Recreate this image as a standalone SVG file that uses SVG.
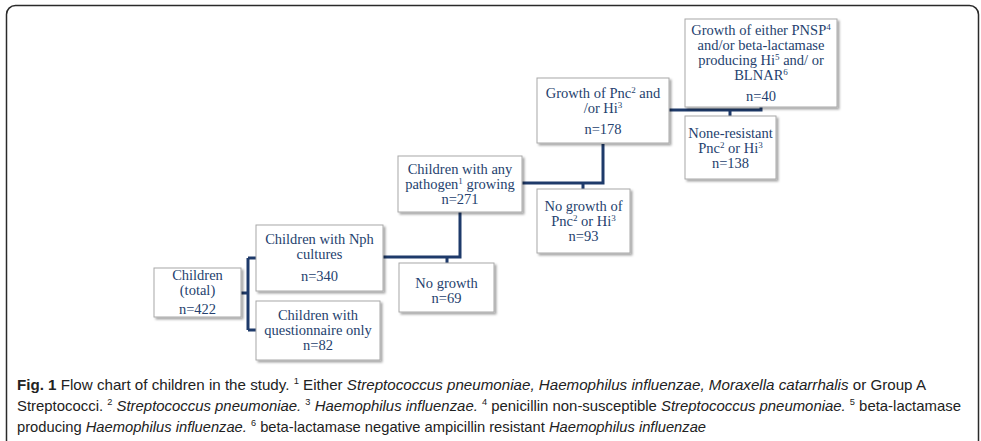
<svg xmlns="http://www.w3.org/2000/svg" width="981" height="441" viewBox="0 0 981 441">
<defs>
<filter id="sh" x="-10%" y="-10%" width="130%" height="140%">
<feDropShadow dx="2" dy="2" stdDeviation="1.2" flood-color="#000" flood-opacity="0.35"/>
</filter>
<style>
.box{fill:#fff;stroke:#a8a8a8;stroke-width:1;filter:url(#sh)}
.t{font-family:"Liberation Serif","Times New Roman",serif;font-size:14.5px;fill:#253f6e;text-anchor:middle}
.sup{font-size:9px}
.conn{fill:none;stroke:#1e3a6a;stroke-width:3}
.cap{font-family:"Liberation Sans",Arial,sans-serif;font-size:14.5px;fill:#222}
</style>
</defs>
<rect x="6.5" y="5.5" width="972" height="452" rx="9" fill="#fff" stroke="#2a2a2a" stroke-width="1.5"/>

<g id="connectors">
<path class="conn" d="M241 293 H248 M248 258 V330 M248 258 H256 M248 330 H256"/>
<path class="conn" d="M383 257 H460 V212 M447 257 V263"/>
<path class="conn" d="M522 183 H603 V144 M583 183 V189"/>
<path class="conn" d="M669 110 H761 V107 M730 110 V116"/>
</g>

<g id="n-total">
<rect class="box" x="154" y="268" width="87" height="49"/>
<text class="t" x="197.5" y="280">Children</text>
<text class="t" x="197.5" y="295">(total)</text>
<text class="t" x="197.5" y="314">n=422</text>
</g>
<g id="n-nph">
<rect class="box" x="256" y="225" width="127" height="66"/>
<text class="t" x="319.5" y="244">Children with Nph</text>
<text class="t" x="319.5" y="259">cultures</text>
<text class="t" x="319.5" y="281">n=340</text>
</g>
<g id="n-quest">
<rect class="box" x="256" y="301" width="124" height="59"/>
<text class="t" x="318" y="320">Children with</text>
<text class="t" x="318" y="335">questionnaire only</text>
<text class="t" x="318" y="350">n=82</text>
</g>
<g id="n-anypath">
<rect class="box" x="398" y="156" width="124" height="56"/>
<text class="t" x="460" y="174">Children with any</text>
<text class="t" x="460" y="189">pathogen<tspan class="sup" dy="-5">1</tspan><tspan dy="5"> growing</tspan></text>
<text class="t" x="460" y="204">n=271</text>
</g>
<g id="n-nogrowth">
<rect class="box" x="399" y="263" width="95" height="49"/>
<text class="t" x="446.5" y="288">No growth</text>
<text class="t" x="446.5" y="303">n=69</text>
</g>
<g id="n-nopnc">
<rect class="box" x="537" y="189" width="93" height="64"/>
<text class="t" x="583.5" y="211">No growth of</text>
<text class="t" x="583.5" y="226">Pnc<tspan class="sup" dy="-5">2</tspan><tspan dy="5"> or Hi</tspan><tspan class="sup" dy="-5">3</tspan></text>
<text class="t" x="583.5" y="241">n=93</text>
</g>
<g id="n-pnc">
<rect class="box" x="537" y="78" width="132" height="65"/>
<text class="t" x="603" y="98">Growth of Pnc<tspan class="sup" dy="-5">2</tspan><tspan dy="5"> and</tspan></text>
<text class="t" x="603" y="113">/or Hi<tspan class="sup" dy="-5">3</tspan></text>
<text class="t" x="603" y="134">n=178</text>
</g>
<g id="n-resist">
<rect class="box" x="685" y="19" width="152" height="88"/>
<text class="t" x="761" y="35">Growth of either PNSP<tspan class="sup" dy="-5">4</tspan></text>
<text class="t" x="761" y="50">and/or beta-lactamase</text>
<text class="t" x="761" y="65">producing Hi<tspan class="sup" dy="-5">5</tspan><tspan dy="5"> and/ or</tspan></text>
<text class="t" x="761" y="80">BLNAR<tspan class="sup" dy="-5">6</tspan></text>
<text class="t" x="761" y="101">n=40</text>
</g>
<g id="n-nonres">
<rect class="box" x="685" y="116" width="91" height="63"/>
<text class="t" x="730.5" y="138">None-resistant</text>
<text class="t" x="730.5" y="153">Pnc<tspan class="sup" dy="-5">2</tspan><tspan dy="5"> or Hi</tspan><tspan class="sup" dy="-5">3</tspan></text>
<text class="t" x="730.5" y="168">n=138</text>
</g>

<g id="caption">
<text class="cap" x="17" y="390" textLength="909" lengthAdjust="spacingAndGlyphs"><tspan font-weight="bold">Fig. 1</tspan> Flow chart of children in the study. <tspan font-size="9" dy="-6">1</tspan><tspan dy="6"> Either </tspan><tspan font-style="italic">Streptococcus pneumoniae, Haemophilus influenzae, Moraxella catarrhalis</tspan> or Group A</text>
<text class="cap" x="17" y="411" textLength="944" lengthAdjust="spacingAndGlyphs">Streptococci. <tspan font-size="9" dy="-6">2</tspan><tspan dy="6" font-style="italic"> Streptococcus pneumoniae.</tspan> <tspan font-size="9" dy="-6">3</tspan><tspan dy="6" font-style="italic"> Haemophilus influenzae.</tspan> <tspan font-size="9" dy="-6">4</tspan><tspan dy="6"> penicillin non-susceptible </tspan><tspan font-style="italic">Streptococcus pneumoniae.</tspan> <tspan font-size="9" dy="-6">5</tspan><tspan dy="6"> beta-lactamase</tspan></text>
<text class="cap" x="17" y="432" textLength="689" lengthAdjust="spacingAndGlyphs">producing <tspan font-style="italic">Haemophilus influenzae.</tspan> <tspan font-size="9" dy="-6">6</tspan><tspan dy="6"> beta-lactamase negative ampicillin resistant </tspan><tspan font-style="italic">Haemophilus influenzae</tspan></text>
</g>
</svg>
